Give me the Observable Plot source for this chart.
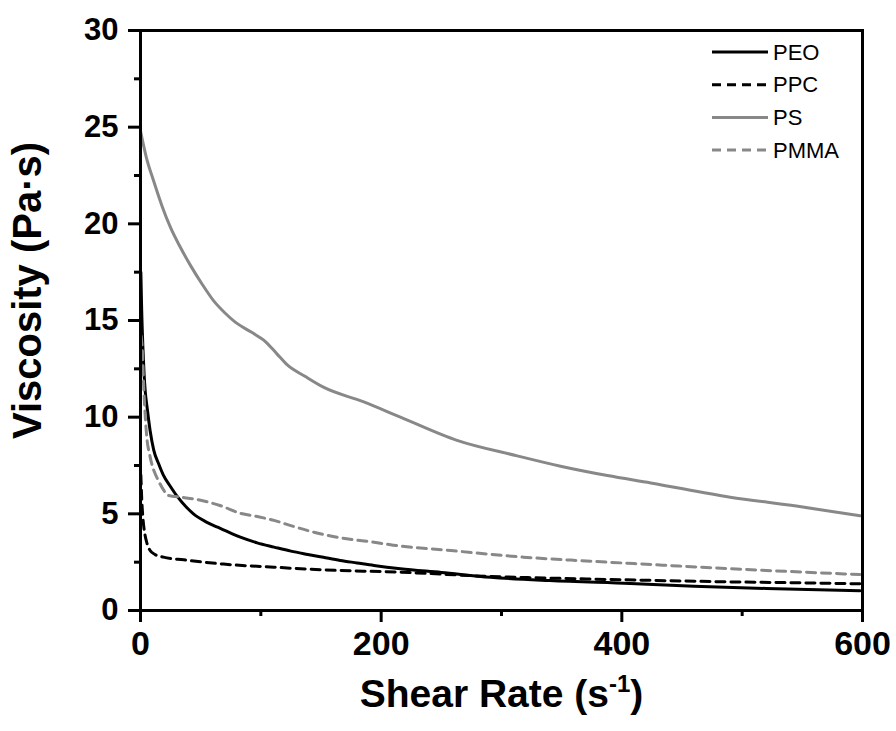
<!DOCTYPE html>
<html><head><meta charset="utf-8">
<script src="https://cdn.jsdelivr.net/npm/d3@7"></script>
<script src="https://cdn.jsdelivr.net/npm/@observablehq/plot@0.6"></script>
<style>body{margin:0;background:#fff} #chart{width:896px;height:731px}</style>
</head><body><div id="chart"></div>
<script>
const seriesNames = ["PEO", "PPC", "PS", "PMMA"];
const seriesColors = ["#000000", "#000000", "#888888", "#888888"];
const seriesDash = [null, "9,6", null, "9,6"];

const peoX = [0.3, 1, 2, 3, 4, 5.5, 8, 11, 15, 19, 25, 31, 38, 44, 54, 64, 75, 83, 97, 111, 125, 139, 152, 166, 180, 194, 216, 250, 291, 340, 407, 460, 520, 598];
const peoY = [17.5, 15.5, 13.6, 12.2, 11.3, 10.5, 9.3, 8.3, 7.6, 7.0, 6.4, 5.86, 5.35, 5.0, 4.6, 4.31, 4.0, 3.79, 3.5, 3.28, 3.07, 2.9, 2.75, 2.59, 2.46, 2.33, 2.16, 1.97, 1.72, 1.55, 1.4, 1.26, 1.14, 1.02];

const ppcX = [0.3, 1, 2, 3.5, 5.5, 8, 12, 19, 36, 69, 111, 152, 216, 291, 350, 424, 490, 550, 598];
const ppcY = [7.0, 5.8, 4.8, 4.0, 3.45, 3.1, 2.9, 2.76, 2.62, 2.4, 2.24, 2.1, 1.98, 1.76, 1.66, 1.56, 1.48, 1.43, 1.38];

const psX = [0, 5, 11, 18, 25, 33, 42, 51, 61, 70, 79, 92, 104, 113, 122, 137, 152, 185, 216, 263, 313, 350, 388, 424, 490, 545, 598];
const psY = [24.8, 23.4, 22.2, 20.9, 19.8, 18.8, 17.8, 16.9, 16.0, 15.4, 14.9, 14.4, 13.9, 13.3, 12.7, 12.1, 11.55, 10.8, 10.0, 8.8, 8.0, 7.45, 6.98, 6.6, 5.86, 5.4, 4.9];

const pmmaX = [0.5, 1.4, 2.8, 4.2, 5.5, 7.5, 9.7, 12, 15, 19, 23, 35, 50, 66, 83, 97, 111, 127, 144, 160, 177, 194, 210, 258, 318, 374, 424, 490, 598];
const pmmaY = [14.2, 13.6, 11.4, 9.8, 8.8, 8.1, 7.5, 7.1, 6.7, 6.25, 5.95, 5.85, 5.7, 5.43, 5.03, 4.86, 4.66, 4.35, 4.05, 3.83, 3.66, 3.53, 3.38, 3.1, 2.76, 2.55, 2.38, 2.16, 1.86];

const xTicks = [0, 200, 400, 600];
const xMinor = [100, 300, 500];
const yTicks = [0, 5, 10, 15, 20, 25, 30];
const yMinor = [2.5, 7.5, 12.5, 17.5, 22.5, 27.5];
const xTitle = "Shear Rate (s-1)";
const yTitle = "Viscosity (Pa·s)";

const seriesData = [[peoX, peoY], [ppcX, ppcY], [psX, psY], [pmmaX, pmmaY]];
const rows = seriesData.map(([xs, ys], i) => xs.map((x, j) => ({series: seriesNames[i], x, y: ys[j]})));

const font = "'Liberation Sans', Arial, Helvetica, sans-serif";

const chart = Plot.plot({
  width: 896, height: 731,
  marginLeft: 140, marginRight: 34, marginTop: 30, marginBottom: 121,
  x: {domain: [0, 600]},
  y: {domain: [0, 30]},
  style: {fontFamily: font, background: "white", color: "black"},
  marks: [
    ...rows.map((data, i) => Plot.line(data, {
      x: "x", y: "y", stroke: seriesColors[i], strokeWidth: 3,
      strokeDasharray: seriesDash[i] || undefined, curve: "monotone-x"
    })),
    Plot.axisX(xTicks, {tickSize: 12, strokeWidth: 3, tickPadding: 8, fontSize: 34, fontWeight: "bold", label: null}),
    Plot.axisX(xMinor, {tickSize: 6, strokeWidth: 3, tickFormat: () => "", label: null}),
    Plot.axisY(yTicks, {tickSize: 12, strokeWidth: 3, tickPadding: 10, fontSize: 31, fontWeight: "bold", label: null}),
    Plot.axisY(yMinor, {tickSize: 6, strokeWidth: 3, tickFormat: () => "", label: null}),
    Plot.text([yTitle], {text: d => d, frameAnchor: "left", textAnchor: "middle", rotate: -90, dx: -112, dy: -30, fontSize: 40, fontWeight: "bold"}),
    Plot.text([xTitle], {text: d => d, frameAnchor: "bottom", textAnchor: "middle", dy: 96, fontSize: 39, fontWeight: "bold"}),
    Plot.frame({stroke: "black", strokeWidth: 3})
  ]
});

document.getElementById("chart").appendChild(chart);

// superscript on x title
d3.select(chart).selectAll("text").filter(function() { return this.textContent === xTitle; })
  .each(function() {
    const t = d3.select(this);
    t.text(null);
    t.append("tspan").text("Shear Rate (s");
    t.append("tspan").attr("dy", "-15").attr("font-size", "24").text("-1");
    t.append("tspan").attr("dy", "15").text(")");
  });

// legend
const lg = d3.select(chart).append("g").attr("font-family", font).attr("font-size", 22).attr("text-anchor", "start");
seriesNames.forEach((name, i) => {
  const y = 52 + i * 32.7;
  lg.append("line").attr("x1", 712).attr("x2", 768).attr("y1", y).attr("y2", y)
    .attr("stroke", seriesColors[i]).attr("stroke-width", 3)
    .attr("stroke-dasharray", seriesDash[i]);
  lg.append("text").attr("x", 773).attr("y", y).attr("dy", "0.35em").attr("fill", "black").attr("text-anchor", "start").text(name);
});
</script>
</body></html>
